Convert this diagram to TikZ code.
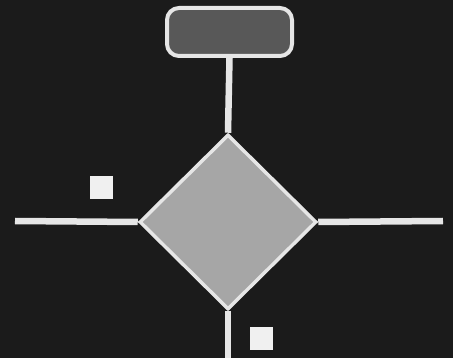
\documentclass[tikz,border=0pt]{standalone}
\usepackage{tikz}
\usetikzlibrary{shapes.geometric}
\definecolor{panel}{HTML}{1B1B1B}
\definecolor{rim}{HTML}{E6E6E6}
\definecolor{capfill}{HTML}{585858}
\definecolor{decfill}{HTML}{A6A6A6}

\begin{document}
\begin{tikzpicture}[x=1pt, y=-1pt,
    term/.style={draw=rim, line width=4pt, fill=capfill, rounded corners=12pt,
                 minimum width=125pt, minimum height=48pt, inner sep=0pt},
    dec/.style={diamond, draw=rim, line width=3.5pt, fill=decfill,
                minimum width=177pt, minimum height=175pt, inner sep=0pt},
    mark box/.style={fill=rim!60!white, minimum size=23pt, inner sep=0pt},
    wire/.style={draw=rim, line width=6.5pt}]
    \fill[panel] (0,0) rectangle (453,358);
    \useasboundingbox (0,0) rectangle (453,358);

    \coordinate (lend) at (15,221);
    \coordinate (rend) at (443,221);
    \coordinate (bend) at (228,362);

    \node[term] (T) at (229.5,32) {};
    \node[dec]  (D) at (228,222) {};

    \draw[wire] (T.south) -- (D.north);
    \draw[wire] (lend) -- (D.west);
    \draw[wire] (D.east) -- (rend);
    \draw[wire] (D.south) -- (bend);

    \node[mark box] (M1) at (101.5,188) {};
    \node[mark box] (M2) at (261.5,338.5) {};
\end{tikzpicture}
\end{document}
